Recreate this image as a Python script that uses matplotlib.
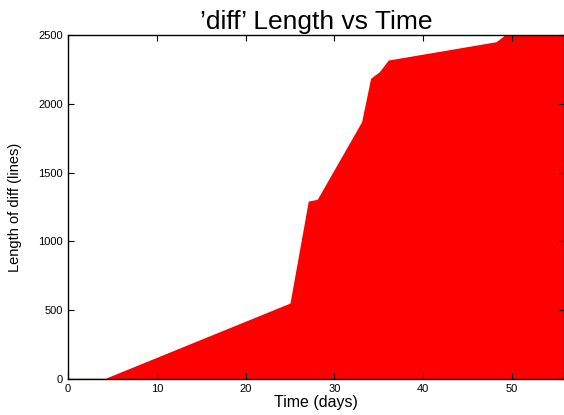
import matplotlib
matplotlib.use("Agg")
import matplotlib.pyplot as plt

plt.rcParams['font.family'] = ['Liberation Sans', 'DejaVu Sans']

days = [0, 4.0, 25.0, 27.06, 28.07, 33.07, 34.08, 35.06, 36.07, 48.2, 49.2, 52.0, 56.0]
lines = [0, 0, 552, 1293, 1306, 1870, 2185, 2233, 2318, 2451, 2500, 2550, 2600]
xticks = [0, 10, 20, 30, 40, 50]
yticks = [0, 500, 1000, 1500, 2000, 2500]

fig = plt.figure(figsize=(5.64, 4.15), dpi=100)
ax = fig.add_axes([68/564, 36/415, (564-68)/564, (379-35)/415])
ax.fill_between(days, lines, 0, color='#ff0000', linewidth=0)
ax.plot(days[:2], lines[:2], color='#800000', linewidth=1)
ax.set_xlim(0, 55.86)
ax.set_ylim(0, 2500)
ax.set_xticks(xticks)
ax.set_yticks(yticks)
ax.tick_params(direction='in', top=True, right=True, labelsize=8, length=4, width=0.8)
for s in ax.spines.values():
    s.set_linewidth(1)
ax.set_xlabel('Time (days)', fontsize=11.5, labelpad=1)
ax.set_ylabel('Length of diff (lines)', fontsize=10.5, labelpad=12)
ax.set_title("\u2019diff\u2019 Length vs Time", fontsize=19, pad=4.5)
fig.savefig('out.png', dpi=100)
